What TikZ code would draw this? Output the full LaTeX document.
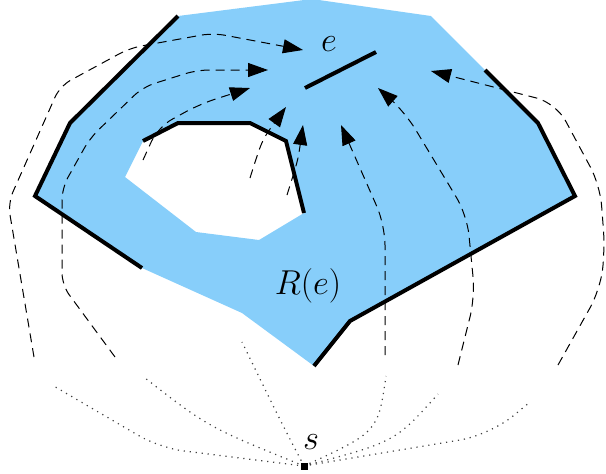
\documentclass[tikz,border=0pt]{standalone}
\usetikzlibrary{arrows.meta}
\definecolor{regblue}{RGB}{135,206,250}
\begin{document}
\begin{tikzpicture}[x=0.5pt,y=-0.5pt,
  bound/.style={line width=2pt, line join=miter},
  flow/.style={line width=0.5pt, dash pattern=on 4.5pt off 3pt, -{Triangle[length=10pt,width=7pt]}},
  reach/.style={line width=0.6pt, dash pattern=on 0.6pt off 2.4pt, black!75},
  lbl/.style={font=\fontsize{16}{19}\selectfont, inner sep=0pt}
]
\useasboundingbox (0,0) rectangle (606,473);
\clip (0,0) rectangle (606,473);
% region R(e) with hole
\fill[regblue, even odd rule]
  (178,16) -- (312,-1) -- (431,16) -- (485,70) -- (538,123) -- (575,196) -- (350,321)
  -- (314,366) -- (242,313) -- (142,268) -- (35,196) -- (70,123) -- cycle
  (143,141) -- (178,123) -- (250,123) -- (286,141) -- (304,213) -- (259,240)
  -- (196,232) -- (125,177) -- cycle;
% thick boundary parts
\draw[bound] (485,70) -- (538,123) -- (575,196) -- (350,321) -- (314,366);
\draw[bound] (142,268) -- (35,196) -- (70,123) -- (178,16);
\draw[bound] (143,141) -- (178,123) -- (250,123) -- (286,141) -- (304,213);
% edge e
\coordinate (e1) at (305,88);
\coordinate (e2) at (376,52);
\draw[bound] (e1) -- (e2);
\node[lbl] (elab) at (329,44) {$e$};
\node[lbl] (rlab) at (308,286) {$R(e)$};
% source s
\node[fill=black, inner sep=0pt, minimum size=3.5pt] (s) at (304,466) {};
\node[lbl] (slab) at (311,442) {$s$};
% coordinates where paths leave
\coordinate (d1) at (52,385);
\coordinate (d2) at (145,378);
\coordinate (d3) at (242,342);
\coordinate (d4) at (386,376);
\coordinate (d5) at (438,394);
\coordinate (d6) at (530,402);
% dotted reach lines
\draw[reach, rounded corners=12pt] (s.center) -- (160,448) -- (d1);
\draw[reach] (s.center) .. controls (208,427) .. (d2);
\draw[reach] (s.center) .. controls (280,420) .. (d3);
\draw[reach] (s.center) .. controls (378,432) .. (d4);
\draw[reach] (s.center) .. controls (395,442) .. (d5);
\draw[reach, rounded corners=15pt] (s.center) -- (490,435) -- (d6);
% arrow tips
\coordinate (t1) at (303,50);
\coordinate (t2) at (268,70);
\coordinate (t3) at (250,88);
\coordinate (t4) at (286,107);
\coordinate (t5) at (303,125);
\coordinate (t6) at (341,125);
\coordinate (t7) at (378,88);
\coordinate (t8) at (431,71);
% dashed flows
\draw[flow, rounded corners=6pt] (34,357) -- (8,203) -- (60,86) -- (130,48) -- (213,33) -- (t1);
\draw[flow, rounded corners=6pt] (115,357) -- (62,285) -- (62,188) -- (90,138) -- (143,87) -- (197,70) -- (t2);
\draw[flow, rounded corners=8pt] (143,160) -- (158,127) -- (200,104) -- (t3);
\draw[flow] (250,178) .. controls (262,140) .. (t4);
\draw[flow] (287,195) .. controls (298,160) .. (t5);
\draw[flow, rounded corners=10pt] (385,355) -- (385,225) -- (t6);
\draw[flow, rounded corners=10pt] (458,365) -- (475,297) -- (467,215) -- (405,112) -- (t7);
\draw[flow, rounded corners=10pt] (558,365) -- (600,290) -- (605,250) -- (600,185) -- (556,103) -- (t8);
% square on top
\node[fill=black, inner sep=0pt, minimum size=3.5pt] at (s) {};
\end{tikzpicture}
\end{document}
